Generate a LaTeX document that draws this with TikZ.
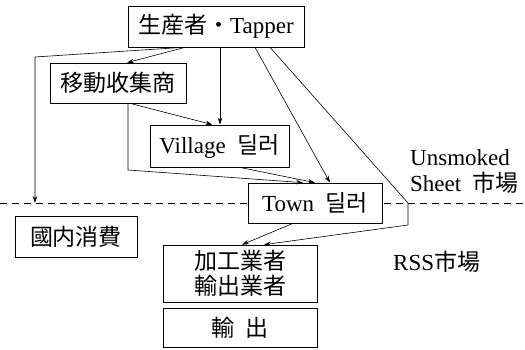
\documentclass[tikz,border=0pt]{standalone}
\usepackage{fontspec}
\setmainfont{Liberation Serif}
\newfontfamily\cjk{Noto Sans CJK JP}
\usetikzlibrary{calc,arrows.meta}
\begin{document}
\begin{tikzpicture}[x=1pt,y=-1pt,
  box/.style={draw,fill=white,line width=0.7pt,inner sep=0pt,align=center,font=\fontsize{23}{26}\selectfont},
  conn/.style={line width=0.6pt,-{Stealth[length=7pt,width=4.5pt]}},
  lbl/.style={inner sep=0pt,anchor=west,font=\fontsize{23}{26}\selectfont,align=left}]
\useasboundingbox (0,0) rectangle (525,350);
\draw[line width=0.7pt,dash pattern=on 7pt off 5pt] (0,203) -- (525,203);
\node[box,minimum width=176pt,minimum height=41pt] (tap) at (216,26.5) {{\cjk 生産者・}Tapper};
\node[box,minimum width=136pt,minimum height=40pt] (mob) at (118,83) {\cjk 移動收集商};
\node[box,minimum width=139pt,minimum height=42pt] (vil) at (219.5,146) {Village\ \ {\cjk 딜러}};
\node[box,minimum width=134pt,minimum height=40pt] (town) at (315,203) {Town\ \ {\cjk 딜러}};
\node[box,minimum width=122pt,minimum height=41pt] (dom) at (76,236.5) {\cjk 國内消費};
\node[box,minimum width=154pt,minimum height=57pt,font=\fontsize{23}{25}\selectfont] (proc) at (240,273.5) {\cjk 加工業者\\\cjk 輸出業者};
\node[box,minimum width=154pt,minimum height=39pt] (exp) at (240,327.5) {\cjk 輸\ \ 出};
\node[lbl] (uns) at (410,171) {Unsmoked\\Sheet\ \ {\cjk 市場}};
\node[lbl] (rss) at (393,262) {RSS{\cjk 市場}};
\coordinate (a1) at (35,57);
\coordinate (a2) at (35,203);
\coordinate (e1) at (128,170);
\coordinate (h1) at (408,203);
\coordinate (h2) at (408,225);
\draw[conn] ($(tap.south)+(-33,0)$) -- (a1) -- (a2);
\draw[conn] ($(tap.south)+(-31,0)$) -- ($(mob.north)+(9,0)$);
\draw[conn] ($(tap.south)+(4,0)$) -- ($(vil.north)+(0.5,0)$);
\draw[conn] ($(mob.south)+(12,0)$) -- ($(vil.north)+(-7,0)$);
\draw[conn] ($(mob.south)+(10,0)$) -- (e1) -- ($(town.north)+(-12,0)$);
\draw[conn] ($(vil.south)+(20,0)$) -- ($(town.north)+(0,0)$);
\draw[conn] ($(tap.south)+(39,0)$) -- ($(town.north)+(15,0)$);
\draw[conn] ($(tap.south)+(54,0)$) -- (h1) -- (h2) -- ($(proc.north)+(24,0)$);
\draw[conn] ($(town.south)+(-22,0)$) -- ($(proc.north)+(2,0)$);
\end{tikzpicture}
\end{document}
